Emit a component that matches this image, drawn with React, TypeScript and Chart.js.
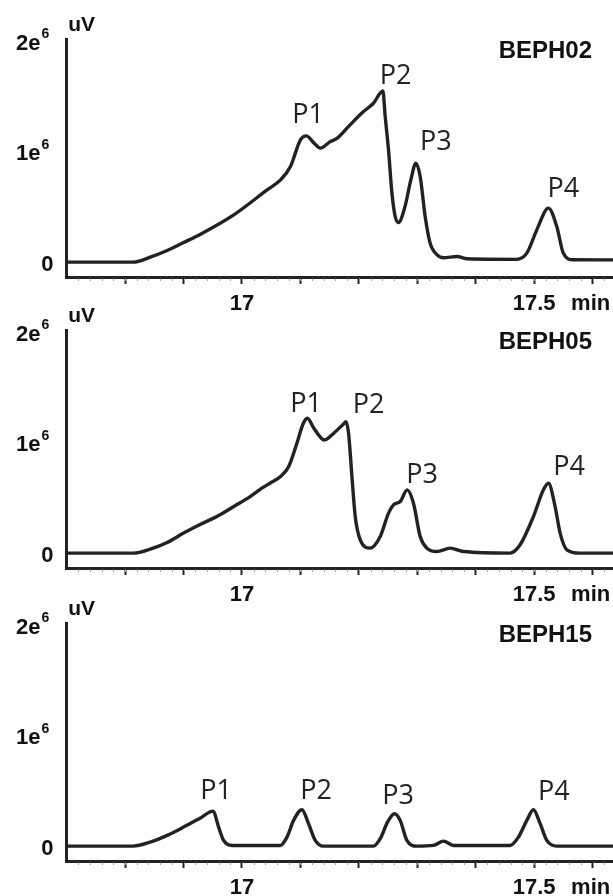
import React, { useEffect, useRef } from "react";
import { Chart, registerables } from "chart.js";

Chart.register(...registerables);

// ---- axis settings ----
const X_MIN = 16.7;
const X_MAX = 17.635;
const Y_MIN = -0.135e6;
const Y_MAX = 2.018e6;
const MAJOR_TICKS = [16.8, 16.9, 17.0, 17.1, 17.2, 17.3, 17.4, 17.5, 17.6];
const X_TICK_LABELS = [
  { value: 17, text: "17" },
  { value: 17.5, text: "17.5" },
];
const X_UNIT = "min";
const Y_UNIT = "uV";
const Y_TICK_LABELS = [
  { value: 0, base: "0", exp: "" },
  { value: 1e6, base: "1e", exp: "6" },
  { value: 2e6, base: "2e", exp: "6" },
];

// ---- BEPH02 ----
const BEPH02_TIME = [
  16.7, 16.814, 16.843, 16.872, 16.9, 16.929, 16.986, 17.043, 17.066, 17.083,
  17.1, 17.11, 17.123, 17.134, 17.151, 17.163, 17.185, 17.208, 17.225, 17.2412,
  17.2451, 17.2508, 17.2566, 17.2622, 17.2679, 17.279, 17.289, 17.2976, 17.305,
  17.3135, 17.322, 17.334, 17.345, 17.368, 17.385, 17.47, 17.4875, 17.5046,
  17.5245, 17.5388, 17.55, 17.567, 17.635,
];
const BEPH02_UV = [
  0, 0, 0.045e6, 0.105e6, 0.177e6, 0.253e6, 0.428e6, 0.654e6, 0.745e6, 0.865e6,
  1.107e6, 1.143e6, 1.08e6, 1.032e6, 1.091e6, 1.122e6, 1.243e6, 1.363e6, 1.439e6, 1.55e6,
  1.32e6, 1.016e6, 0.627e6, 0.413e6, 0.358e6, 0.503e6, 0.745e6, 0.896e6, 0.775e6,
  0.413e6, 0.172e6, 0.066e6, 0.04e6, 0.051e6, 0.03e6, 0.025e6, 0.081e6, 0.292e6,
  0.489e6, 0.322e6, 0.081e6, 0.021e6, 0.02e6,
];
const BEPH02_PEAKS = [
  { text: "P1", x: 17.1131, y: 1.258e6 },
  { text: "P2", x: 17.2627, y: 1.611e6 },
  { text: "P3", x: 17.3316, y: 1.016e6 },
  { text: "P4", x: 17.5501, y: 0.594e6 },
];

// ---- BEPH05 ----
const BEPH05_TIME = [
  16.7, 16.814, 16.843, 16.872, 16.9, 16.929, 16.957, 16.986, 17.014, 17.034,
  17.048, 17.066, 17.08, 17.094, 17.105, 17.112, 17.123, 17.141, 17.157, 17.1738,
  17.178, 17.1824, 17.1882, 17.1938, 17.2024, 17.2195, 17.2366, 17.2508, 17.2593,
  17.2708, 17.2828, 17.2935, 17.305, 17.3164, 17.3336, 17.3563, 17.3791, 17.4589,
  17.476, 17.4988, 17.5159, 17.5245, 17.5359, 17.5445, 17.556, 17.5787, 17.635,
];
const BEPH05_UV = [
  0, 0, 0.036e6, 0.096e6, 0.181e6, 0.262e6, 0.331e6, 0.422e6, 0.512e6, 0.588e6,
  0.633e6, 0.693e6, 0.784e6, 0.995e6, 1.176e6, 1.222e6, 1.131e6, 1.025e6, 1.086e6, 1.17e6,
  1.19e6, 1.086e6, 0.693e6, 0.331e6, 0.12e6, 0.045e6, 0.15e6, 0.362e6, 0.437e6,
  0.467e6, 0.573e6, 0.452e6, 0.15e6, 0.045e6, 0.014e6, 0.045e6, 0.014e6, 0,
  0.075e6, 0.331e6, 0.573e6, 0.633e6, 0.422e6, 0.181e6, 0.03e6, 0, 0,
];
const BEPH05_PEAKS = [
  { text: "P1", x: 17.1097, y: 1.281e6 },
  { text: "P2", x: 17.2169, y: 1.27e6 },
  { text: "P3", x: 17.3084, y: 0.633e6 },
  { text: "P4", x: 17.5599, y: 0.709e6 },
];

// ---- BEPH15 ----
const BEPH15_TIME = [
  16.7, 16.814, 16.843, 16.872, 16.9, 16.929, 16.9504, 16.96, 16.9685, 16.983,
  17.0655, 17.077, 17.0883, 17.1026, 17.1139, 17.1254, 17.1396, 17.2251, 17.2366,
  17.2491, 17.261, 17.2708, 17.2822, 17.2993, 17.3277, 17.3449, 17.362, 17.4589,
  17.4731, 17.4875, 17.4988, 17.5103, 17.5217, 17.5388, 17.635,
];
const BEPH15_UV = [
  0, 0, 0.036e6, 0.097e6, 0.172e6, 0.255e6, 0.317e6, 0.172e6, 0.052e6, 0.006e6,
  0.006e6, 0.081e6, 0.233e6, 0.329e6, 0.203e6, 0.052e6, 0, 0, 0.067e6,
  0.217e6, 0.293e6, 0.233e6, 0.052e6, 0, 0.006e6, 0.045e6, 0.006e6, 0.006e6,
  0.081e6, 0.233e6, 0.329e6, 0.203e6, 0.052e6, 0, 0,
];
const BEPH15_PEAKS = [
  { text: "P1", x: 16.9555, y: 0.429e6 },
  { text: "P2", x: 17.1268, y: 0.429e6 },
  { text: "P3", x: 17.2673, y: 0.384e6 },
  { text: "P4", x: 17.5339, y: 0.414e6 },
];

const PANELS = [
  { name: "BEPH02", time: BEPH02_TIME, uv: BEPH02_UV, peaks: BEPH02_PEAKS, top: 0 },
  { name: "BEPH05", time: BEPH05_TIME, uv: BEPH05_UV, peaks: BEPH05_PEAKS, top: 291 },
  { name: "BEPH15", time: BEPH15_TIME, uv: BEPH15_UV, peaks: BEPH15_PEAKS, top: 584 },
];

const W = 613;
const H = 312;
const INK = "#222222";
const BOLD = '"Liberation Sans", Arial, sans-serif';

type Panel = (typeof PANELS)[number];

function makeDecor(panel: Panel) {
  return {
    id: "decor_" + panel.name,
    afterDraw(chart: any) {
      const { ctx, chartArea } = chart;
      const x = chart.scales.x;
      const y = chart.scales.y;
      ctx.save();
      // minor ticks
      ctx.strokeStyle = "#a0a0a0";
      ctx.lineWidth = 1;
      for (let i = 0; i * 0.02 + 16.72 <= X_MAX; i++) {
        const v = 16.72 + i * 0.02;
        const px = Math.round(x.getPixelForValue(v)) + 0.5;
        ctx.beginPath();
        ctx.moveTo(px, chartArea.bottom + 1.5);
        ctx.lineTo(px, chartArea.bottom + 4);
        ctx.stroke();
      }
      ctx.fillStyle = "#111";
      // x labels
      ctx.font = `bold 22px ${BOLD}`;
      ctx.textBaseline = "alphabetic";
      ctx.textAlign = "center";
      for (const l of X_TICK_LABELS) {
        ctx.fillText(l.text, x.getPixelForValue(l.value), chartArea.bottom + 33);
      }
      ctx.textAlign = "left";
      ctx.fillText(X_UNIT, x.getPixelForValue(17.5) + 37, chartArea.bottom + 33);
      // y labels
      for (const l of Y_TICK_LABELS) {
        const py = y.getPixelForValue(l.value);
        ctx.font = `bold 22px ${BOLD}`;
        ctx.textAlign = "right";
        if (l.exp) {
          ctx.fillText(l.base, 40.5, py + 8.5);
          ctx.font = `bold 14px ${BOLD}`;
          ctx.textAlign = "left";
          ctx.fillText(l.exp, 41.5, py - 3);
        } else {
          ctx.fillText(l.base, 53.5, py + 9);
        }
      }
      // unit
      ctx.font = `bold 21px ${BOLD}`;
      ctx.textAlign = "left";
      ctx.fillText(Y_UNIT, chartArea.left + 1.5, 30.5);
      // title
      ctx.font = `bold 24px ${BOLD}`;
      ctx.textAlign = "right";
      ctx.fillText(panel.name, 592, 58);
      // peak labels
      ctx.font = '27px "Open Sans", sans-serif';
      ctx.fillStyle = INK;
      ctx.textAlign = "center";
      for (const p of panel.peaks) {
        ctx.fillText(p.text, x.getPixelForValue(p.x), y.getPixelForValue(p.y));
      }
      ctx.restore();
    },
  };
}

function PanelChart({ panel }: { panel: Panel }) {
  const ref = useRef<HTMLCanvasElement | null>(null);
  useEffect(() => {
    if (!ref.current) return;
    const chart = new Chart(ref.current, {
      type: "line",
      data: {
        datasets: [
          {
            data: panel.time.map((t, i) => ({ x: t, y: panel.uv[i] })),
            borderColor: INK,
            borderWidth: 3.4,
            pointRadius: 0,
            fill: false,
            cubicInterpolationMode: "monotone",
            clip: 4,
          },
        ],
      },
      options: {
        animation: false,
        responsive: false,
        maintainAspectRatio: false,
        events: [],
        layout: { padding: { left: 66.7, right: 0, top: 39.3, bottom: H - 277 } },
        plugins: { legend: { display: false }, tooltip: { enabled: false } },
        scales: {
          x: {
            type: "linear",
            min: X_MIN,
            max: X_MAX,
            afterBuildTicks: (s: any) => {
              s.ticks = MAJOR_TICKS.map((v) => ({ value: v }));
            },
            afterFit: (s: any) => {
              s.height = 0;
            },
            ticks: { display: false },
            grid: {
              display: true,
              drawOnChartArea: false,
              drawTicks: true,
              tickLength: 7,
              tickWidth: 2,
              tickColor: INK,
            },
            border: { display: true, color: INK, width: 3 },
          },
          y: {
            type: "linear",
            min: Y_MIN,
            max: Y_MAX,
            afterFit: (s: any) => {
              s.width = 0;
            },
            ticks: { display: false },
            grid: { display: true, drawOnChartArea: false, drawTicks: false },
            border: { display: true, color: INK, width: 3 },
          },
        },
      },
      plugins: [makeDecor(panel)],
    } as any);
    return () => chart.destroy();
  }, [panel]);
  return (
    <canvas
      ref={ref}
      width={W}
      height={H}
      style={{ position: "absolute", left: 0, top: panel.top, width: W, height: H }}
    />
  );
}

export default function App() {
  return (
    <div
      style={{
        position: "absolute",
        left: 0,
        top: 0,
        width: W,
        height: 896,
        background: "#ffffff",
        overflow: "hidden",
      }}
    >
      {PANELS.map((p) => (
        <PanelChart key={p.name} panel={p} />
      ))}
    </div>
  );
}
